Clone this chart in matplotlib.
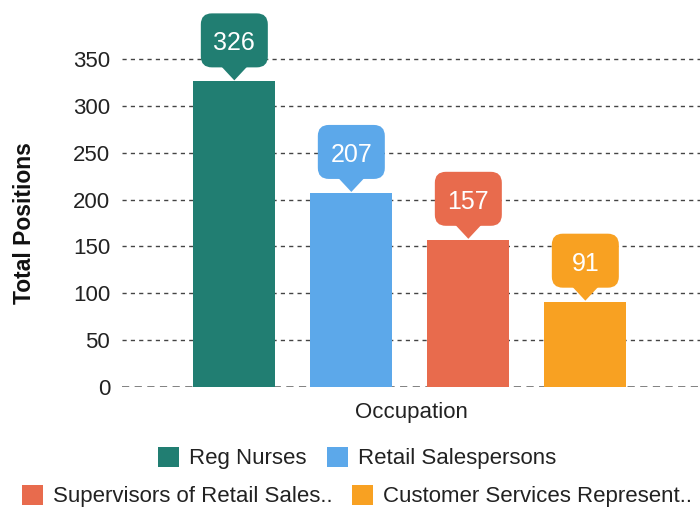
import matplotlib
matplotlib.use("Agg")
import matplotlib.pyplot as plt
from matplotlib.patches import FancyBboxPatch, Polygon, Patch
from matplotlib.transforms import ScaledTranslation

plt.rcParams['font.family'] = ['Liberation Sans', 'DejaVu Sans']

categories = ["Reg Nurses", "Retail Salespersons", "Supervisors of Retail Sales..", "Customer Services Represent.."]
values = [326, 207, 157, 91]
colors = ["#217E72", "#5CA8EA", "#E86B4D", "#F8A122"]
yticks = [0, 50, 100, 150, 200, 250, 300, 350]

W, H = 700, 508
fig = plt.figure(figsize=(W / 100, H / 100), dpi=100)
ax = fig.add_axes([122 / W, 1 - 387 / H, (700 - 122) / W, (387 - 12) / H])

x = list(range(len(values)))
ax.bar(x, values, width=0.70, color=colors, zorder=3)
ax.set_xlim(-0.96, 3.98)
ax.set_ylim(0, 400)
ax.set_yticks(yticks)
ax.set_yticklabels([str(t) for t in yticks], fontsize=16, color="#222222")
ax.set_xticks([])
ax.tick_params(axis='y', length=0, pad=8.5)
for s in ax.spines.values():
    s.set_visible(False)
for t in yticks:
    if t == 0:
        ax.axhline(t, color="#777777", lw=1.3, ls=(0, (4, 3)), zorder=2)
    else:
        ax.axhline(t, color="#444444", lw=1.0, ls=(0, (3, 3)), zorder=1)

ax.set_xlabel("Occupation", fontsize=16, color="#222222", labelpad=11)
ax.set_ylabel("Total Positions", fontsize=16.5, fontweight='bold', color="#111111")
ax.yaxis.set_label_coords(-0.149, 0.437)

# bubbles (dimensions in inches, offset from bar top)
bw, bh = 0.67, 0.54
gap = 0.13
tw = 0.28
for xi, v, c in zip(x, values, colors):
    tr = fig.dpi_scale_trans + ScaledTranslation(xi, v, ax.transData)
    box = FancyBboxPatch((-bw / 2, gap + 0.01), bw, bh,
                         boxstyle="round,pad=0,rounding_size=0.11",
                         fc=c, ec='none', transform=tr, clip_on=False, zorder=4)
    ax.add_patch(box)
    tri = Polygon([(-tw / 2, gap + 0.03), (tw / 2, gap + 0.03), (0, 0.01)],
                  closed=True, fc=c, ec='none', transform=tr, clip_on=False, zorder=4)
    ax.add_patch(tri)
    ax.text(0, gap + 0.01 + bh / 2 - 0.03, str(v), transform=tr, ha='center', va='center',
            fontsize=18, color='white', zorder=5)

handles = [Patch(fc=c, ec='none') for c in colors]
kw = dict(loc='center', ncol=2, frameon=False, fontsize=16, handlelength=0.95,
          handleheight=1.0, handletextpad=0.45, columnspacing=0.9,
          borderpad=0, borderaxespad=0)
leg1 = fig.legend(handles[:2], categories[:2], bbox_to_anchor=(357 / W, 1 - 458 / H), **kw)
leg2 = fig.legend(handles[2:], categories[2:], bbox_to_anchor=(357 / W, 1 - 496 / H), **kw)
for lg in (leg1, leg2):
    for t in lg.get_texts():
        t.set_color("#222222")

fig.savefig("out.png", dpi=100)
